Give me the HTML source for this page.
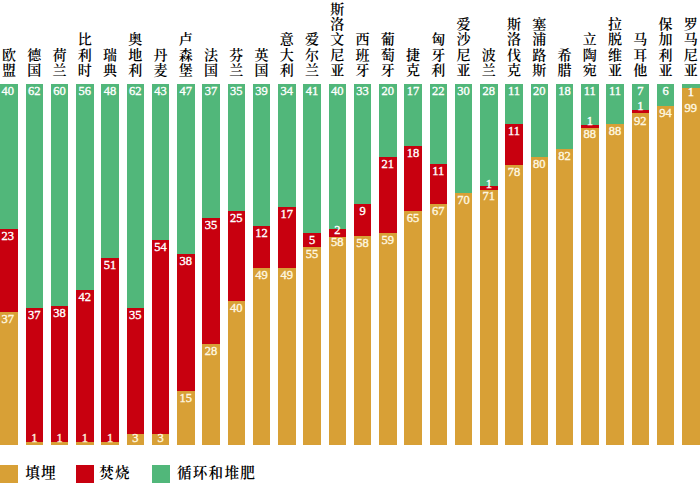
<!DOCTYPE html>
<html lang="zh-CN"><head><meta charset="utf-8"><title>欧盟各国垃圾处理方式</title>
<style>
html,body{margin:0;padding:0;background:#fff}
body{width:700px;height:484px;position:relative;overflow:hidden}
.b{position:absolute;width:17.55px}
.n{position:absolute;width:17.55px;text-align:center;-webkit-text-stroke:0.35px currentColor;font:12.5px/12px "Liberation Serif","Noto Serif CJK SC",serif;color:#fff;white-space:nowrap}
.nl{color:#fff8e0}
.t{position:absolute;bottom:406px;width:25px;text-align:center;font:14px/15.2px "Liberation Serif","Noto Serif CJK SC",serif;font-weight:600;color:#000}
.sq{position:absolute;top:464.5px;width:18.2px;height:18px}
.lt{position:absolute;top:462.5px;letter-spacing:1.2px;font:14.6px/20px "Liberation Serif","Noto Serif CJK SC",serif;font-weight:600;color:#000;white-space:nowrap}
</style></head><body>
<div class="b" style="left:0.3px;top:84px;height:361.1px;background:#51b77a"></div>
<div class="b" style="left:0.3px;top:228.75px;height:216.35px;background:#c8000f"></div>
<div class="b" style="left:0.3px;top:312px;height:133.1px;background:#d8a036"></div>
<div class="n ng" style="left:-1.1px;top:85px">40</div>
<div class="n nr" style="left:-1.1px;top:229.75px">23</div>
<div class="n nl" style="left:-1.1px;top:313px">37</div>
<div class="t" style="left:-3.42px">欧<br>盟</div>
<div class="b" style="left:25.55px;top:84px;height:361.1px;background:#51b77a"></div>
<div class="b" style="left:25.55px;top:308px;height:137.1px;background:#c8000f"></div>
<div class="b" style="left:25.55px;top:442.3px;height:2.8px;background:#d8a036"></div>
<div class="n ng" style="left:25.55px;top:85px">62</div>
<div class="n nr" style="left:25.55px;top:309px">37</div>
<div class="n nl" style="left:25.55px;top:432.4px">1</div>
<div class="t" style="left:21.83px">德<br>国</div>
<div class="b" style="left:50.8px;top:84px;height:361.1px;background:#51b77a"></div>
<div class="b" style="left:50.8px;top:305.5px;height:139.6px;background:#c8000f"></div>
<div class="b" style="left:50.8px;top:442.3px;height:2.8px;background:#d8a036"></div>
<div class="n ng" style="left:50.8px;top:85px">60</div>
<div class="n nr" style="left:50.8px;top:306.5px">38</div>
<div class="n nl" style="left:50.8px;top:432.4px">1</div>
<div class="t" style="left:47.07px">荷<br>兰</div>
<div class="b" style="left:76.05px;top:84px;height:361.1px;background:#51b77a"></div>
<div class="b" style="left:76.05px;top:290.3px;height:154.8px;background:#c8000f"></div>
<div class="b" style="left:76.05px;top:442.3px;height:2.8px;background:#d8a036"></div>
<div class="n ng" style="left:76.05px;top:85px">56</div>
<div class="n nr" style="left:76.05px;top:291.3px">42</div>
<div class="n nl" style="left:76.05px;top:432.4px">1</div>
<div class="t" style="left:72.33px">比<br>利<br>时</div>
<div class="b" style="left:101.3px;top:84px;height:361.1px;background:#51b77a"></div>
<div class="b" style="left:101.3px;top:257.5px;height:187.6px;background:#c8000f"></div>
<div class="b" style="left:101.3px;top:442.3px;height:2.8px;background:#d8a036"></div>
<div class="n ng" style="left:101.3px;top:85px">48</div>
<div class="n nr" style="left:101.3px;top:258.5px">51</div>
<div class="n nl" style="left:101.3px;top:432.4px">1</div>
<div class="t" style="left:97.58px">瑞<br>典</div>
<div class="b" style="left:126.55px;top:84px;height:361.1px;background:#51b77a"></div>
<div class="b" style="left:126.55px;top:308px;height:137.1px;background:#c8000f"></div>
<div class="b" style="left:126.55px;top:434.2px;height:10.9px;background:#d8a036"></div>
<div class="n ng" style="left:126.55px;top:85px">62</div>
<div class="n nr" style="left:126.55px;top:309px">35</div>
<div class="n nl" style="left:126.55px;top:432.2px">3</div>
<div class="t" style="left:122.82px">奥<br>地<br>利</div>
<div class="b" style="left:151.8px;top:84px;height:361.1px;background:#51b77a"></div>
<div class="b" style="left:151.8px;top:240px;height:205.1px;background:#c8000f"></div>
<div class="b" style="left:151.8px;top:434.2px;height:10.9px;background:#d8a036"></div>
<div class="n ng" style="left:151.8px;top:85px">43</div>
<div class="n nr" style="left:151.8px;top:241px">54</div>
<div class="n nl" style="left:151.8px;top:432.2px">3</div>
<div class="t" style="left:148.08px">丹<br>麦</div>
<div class="b" style="left:177.05px;top:84px;height:361.1px;background:#51b77a"></div>
<div class="b" style="left:177.05px;top:254.25px;height:190.85px;background:#c8000f"></div>
<div class="b" style="left:177.05px;top:390.7px;height:54.4px;background:#d8a036"></div>
<div class="n ng" style="left:177.05px;top:85px">47</div>
<div class="n nr" style="left:177.05px;top:255.25px">38</div>
<div class="n nl" style="left:177.05px;top:391.7px">15</div>
<div class="t" style="left:173.33px">卢<br>森<br>堡</div>
<div class="b" style="left:202.3px;top:84px;height:361.1px;background:#51b77a"></div>
<div class="b" style="left:202.3px;top:218.25px;height:226.85px;background:#c8000f"></div>
<div class="b" style="left:202.3px;top:344px;height:101.1px;background:#d8a036"></div>
<div class="n ng" style="left:202.3px;top:85px">37</div>
<div class="n nr" style="left:202.3px;top:219.25px">35</div>
<div class="n nl" style="left:202.3px;top:345px">28</div>
<div class="t" style="left:198.58px">法<br>国</div>
<div class="b" style="left:227.55px;top:84px;height:361.1px;background:#51b77a"></div>
<div class="b" style="left:227.55px;top:211.25px;height:233.85px;background:#c8000f"></div>
<div class="b" style="left:227.55px;top:301.25px;height:143.85px;background:#d8a036"></div>
<div class="n ng" style="left:227.55px;top:85px">35</div>
<div class="n nr" style="left:227.55px;top:212.25px">25</div>
<div class="n nl" style="left:227.55px;top:302.25px">40</div>
<div class="t" style="left:223.83px">芬<br>兰</div>
<div class="b" style="left:252.8px;top:84px;height:361.1px;background:#51b77a"></div>
<div class="b" style="left:252.8px;top:225.5px;height:219.6px;background:#c8000f"></div>
<div class="b" style="left:252.8px;top:268.25px;height:176.85px;background:#d8a036"></div>
<div class="n ng" style="left:252.8px;top:85px">39</div>
<div class="n nr" style="left:252.8px;top:226.5px">12</div>
<div class="n nl" style="left:252.8px;top:269.25px">49</div>
<div class="t" style="left:249.07px">英<br>国</div>
<div class="b" style="left:278.05px;top:84px;height:361.1px;background:#51b77a"></div>
<div class="b" style="left:278.05px;top:207px;height:238.1px;background:#c8000f"></div>
<div class="b" style="left:278.05px;top:268.25px;height:176.85px;background:#d8a036"></div>
<div class="n ng" style="left:278.05px;top:85px">34</div>
<div class="n nr" style="left:278.05px;top:208px">17</div>
<div class="n nl" style="left:278.05px;top:269.25px">49</div>
<div class="t" style="left:274.32px">意<br>大<br>利</div>
<div class="b" style="left:303.3px;top:84px;height:361.1px;background:#51b77a"></div>
<div class="b" style="left:303.3px;top:232.5px;height:212.6px;background:#c8000f"></div>
<div class="b" style="left:303.3px;top:246.9px;height:198.2px;background:#d8a036"></div>
<div class="n ng" style="left:303.3px;top:85px">41</div>
<div class="n nr" style="left:303.3px;top:234px">5</div>
<div class="n nl" style="left:303.3px;top:248px">55</div>
<div class="t" style="left:299.57px">爱<br>尔<br>兰</div>
<div class="b" style="left:328.55px;top:84px;height:361.1px;background:#51b77a"></div>
<div class="b" style="left:328.55px;top:229px;height:216.1px;background:#c8000f"></div>
<div class="b" style="left:328.55px;top:236.5px;height:208.6px;background:#d8a036"></div>
<div class="n ng" style="left:328.55px;top:85px">40</div>
<div class="n nr" style="left:328.55px;top:224.3px">2</div>
<div class="n nl" style="left:328.55px;top:236.2px">58</div>
<div class="t" style="left:324.82px">斯<br>洛<br>文<br>尼<br>亚</div>
<div class="b" style="left:353.8px;top:84px;height:361.1px;background:#51b77a"></div>
<div class="b" style="left:353.8px;top:204.25px;height:240.85px;background:#c8000f"></div>
<div class="b" style="left:353.8px;top:235.5px;height:209.6px;background:#d8a036"></div>
<div class="n ng" style="left:353.8px;top:85px">33</div>
<div class="n nr" style="left:353.8px;top:205.25px">9</div>
<div class="n nl" style="left:353.8px;top:236.5px">58</div>
<div class="t" style="left:350.07px">西<br>班<br>牙</div>
<div class="b" style="left:379.05px;top:84px;height:361.1px;background:#51b77a"></div>
<div class="b" style="left:379.05px;top:157px;height:288.1px;background:#c8000f"></div>
<div class="b" style="left:379.05px;top:232.5px;height:212.6px;background:#d8a036"></div>
<div class="n ng" style="left:379.05px;top:85px">20</div>
<div class="n nr" style="left:379.05px;top:158px">21</div>
<div class="n nl" style="left:379.05px;top:233.5px">59</div>
<div class="t" style="left:375.32px">葡<br>萄<br>牙</div>
<div class="b" style="left:404.3px;top:84px;height:361.1px;background:#51b77a"></div>
<div class="b" style="left:404.3px;top:145.75px;height:299.35px;background:#c8000f"></div>
<div class="b" style="left:404.3px;top:210.5px;height:234.6px;background:#d8a036"></div>
<div class="n ng" style="left:404.3px;top:85px">17</div>
<div class="n nr" style="left:404.3px;top:146.75px">18</div>
<div class="n nl" style="left:404.3px;top:211.5px">65</div>
<div class="t" style="left:400.57px">捷<br>克</div>
<div class="b" style="left:429.55px;top:84px;height:361.1px;background:#51b77a"></div>
<div class="b" style="left:429.55px;top:164.25px;height:280.85px;background:#c8000f"></div>
<div class="b" style="left:429.55px;top:203.75px;height:241.35px;background:#d8a036"></div>
<div class="n ng" style="left:429.55px;top:85px">22</div>
<div class="n nr" style="left:429.55px;top:165.25px">11</div>
<div class="n nl" style="left:429.55px;top:204.75px">67</div>
<div class="t" style="left:425.82px">匈<br>牙<br>利</div>
<div class="b" style="left:454.8px;top:84px;height:361.1px;background:#51b77a"></div>
<div class="b" style="left:454.8px;top:193px;height:252.1px;background:#d8a036"></div>
<div class="n ng" style="left:454.8px;top:85px">30</div>
<div class="n nl" style="left:454.8px;top:194px">70</div>
<div class="t" style="left:451.07px">爱<br>沙<br>尼<br>亚</div>
<div class="b" style="left:480.05px;top:84px;height:361.1px;background:#51b77a"></div>
<div class="b" style="left:480.05px;top:186px;height:259.1px;background:#c8000f"></div>
<div class="b" style="left:480.05px;top:189.5px;height:255.6px;background:#d8a036"></div>
<div class="n ng" style="left:480.05px;top:85px">28</div>
<div class="n nr" style="left:480.05px;top:178px">1</div>
<div class="n nl" style="left:480.05px;top:190.2px">71</div>
<div class="t" style="left:476.32px">波<br>兰</div>
<div class="b" style="left:505.3px;top:84px;height:361.1px;background:#51b77a"></div>
<div class="b" style="left:505.3px;top:123.75px;height:321.35px;background:#c8000f"></div>
<div class="b" style="left:505.3px;top:164.5px;height:280.6px;background:#d8a036"></div>
<div class="n ng" style="left:505.3px;top:85px">11</div>
<div class="n nr" style="left:505.3px;top:124.75px">11</div>
<div class="n nl" style="left:505.3px;top:165.5px">78</div>
<div class="t" style="left:501.58px">斯<br>洛<br>伐<br>克</div>
<div class="b" style="left:530.55px;top:84px;height:361.1px;background:#51b77a"></div>
<div class="b" style="left:530.55px;top:156.75px;height:288.35px;background:#d8a036"></div>
<div class="n ng" style="left:530.55px;top:85px">20</div>
<div class="n nl" style="left:530.55px;top:157.75px">80</div>
<div class="t" style="left:526.82px">塞<br>浦<br>路<br>斯</div>
<div class="b" style="left:555.8px;top:84px;height:361.1px;background:#51b77a"></div>
<div class="b" style="left:555.8px;top:149.25px;height:295.85px;background:#d8a036"></div>
<div class="n ng" style="left:555.8px;top:85px">18</div>
<div class="n nl" style="left:555.8px;top:150.25px">82</div>
<div class="t" style="left:552.07px">希<br>腊</div>
<div class="b" style="left:581.05px;top:84px;height:361.1px;background:#51b77a"></div>
<div class="b" style="left:581.05px;top:124.5px;height:320.6px;background:#c8000f"></div>
<div class="b" style="left:581.05px;top:127.5px;height:317.6px;background:#d8a036"></div>
<div class="n ng" style="left:581.05px;top:85px">11</div>
<div class="n nr" style="left:581.05px;top:115.1px">1</div>
<div class="n nl" style="left:581.05px;top:128px">88</div>
<div class="t" style="left:577.32px">立<br>陶<br>宛</div>
<div class="b" style="left:606.3px;top:84px;height:361.1px;background:#51b77a"></div>
<div class="b" style="left:606.3px;top:124.3px;height:320.8px;background:#d8a036"></div>
<div class="n ng" style="left:606.3px;top:85px">11</div>
<div class="n nl" style="left:606.3px;top:125.3px">88</div>
<div class="t" style="left:602.57px">拉<br>脱<br>维<br>亚</div>
<div class="b" style="left:631.55px;top:84px;height:361.1px;background:#51b77a"></div>
<div class="b" style="left:631.55px;top:110px;height:335.1px;background:#c8000f"></div>
<div class="b" style="left:631.55px;top:113.25px;height:331.85px;background:#d8a036"></div>
<div class="n ng" style="left:631.55px;top:85px">7</div>
<div class="n nr" style="left:631.55px;top:100.3px">1</div>
<div class="n nl" style="left:631.55px;top:114.8px">92</div>
<div class="t" style="left:627.82px">马<br>耳<br>他</div>
<div class="b" style="left:656.8px;top:84px;height:361.1px;background:#51b77a"></div>
<div class="b" style="left:656.8px;top:105.9px;height:339.2px;background:#d8a036"></div>
<div class="n ng" style="left:656.8px;top:85px">6</div>
<div class="n nl" style="left:656.8px;top:106.6px">94</div>
<div class="t" style="left:653.07px">保<br>加<br>利<br>亚</div>
<div class="b" style="left:682.05px;top:84px;height:361.1px;background:#51b77a;width:17.95px"></div>
<div class="b" style="left:682.05px;top:88px;height:357.1px;background:#d8a036;width:17.95px"></div>
<div class="n ng" style="left:682.05px;top:86.4px">1</div>
<div class="n nl" style="left:682.05px;top:101.8px">99</div>
<div class="t" style="left:678.32px">罗<br>马<br>尼<br>亚</div>

<div class="sq" style="left:0;background:#d8a036"></div><div class="lt" style="left:25.3px">填埋</div>
<div class="sq" style="left:75.7px;background:#c8000f"></div><div class="lt" style="left:99.3px">焚烧</div>
<div class="sq" style="left:151.6px;background:#51b77a"></div><div class="lt" style="left:177px">循环和堆肥</div>

</body></html>
